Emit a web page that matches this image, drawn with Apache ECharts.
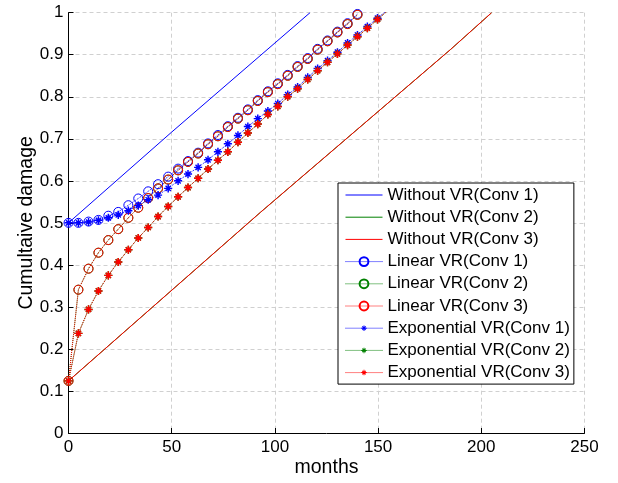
<!DOCTYPE html>
<html><head><meta charset="utf-8">
<script src="https://cdn.jsdelivr.net/npm/echarts@6/dist/echarts.min.js"></script>
<style>html,body{margin:0;padding:0;background:#fff}#c{width:618px;height:483px}</style>
</head><body><div id="c"></div>
<script>
// ---- data ----
const xTicks = [0, 50, 100, 150, 200, 250];
const yTicks = [0, 0.1, 0.2, 0.3, 0.4, 0.5, 0.6, 0.7, 0.8, 0.9, 1];

const withoutX1 = [0, 50, 117];
const withoutY1 = [0.5, 0.716, 1.0];
const withoutX23 = [0, 93, 185, 205];
const withoutY2 = [0.124, 0.525, 0.912, 1.0];
const withoutY3 = [0.124, 0.525, 0.912, 1.0];

const monthsVR = [0, 4.8, 9.7, 14.5, 19.3, 24.1, 29.0, 33.8, 38.6, 43.4, 48.3, 53.1, 57.9, 62.8, 67.6, 72.4, 77.2, 82.1, 86.9, 91.7, 96.6, 101.4, 106.2, 111.0, 115.9, 120.7, 125.5, 130.3, 135.2, 140.0, 144.8, 149.7, 154.5];

const linearConv1 = [0.500, 0.500, 0.503, 0.507, 0.517, 0.526, 0.542, 0.558, 0.575, 0.592, 0.610, 0.629, 0.647, 0.667, 0.689, 0.709, 0.730, 0.750, 0.770, 0.792, 0.813, 0.832, 0.852, 0.873, 0.892, 0.914, 0.934, 0.955, 0.975, 0.997];
const linearConv2 = [0.124, 0.341, 0.391, 0.429, 0.459, 0.485, 0.512, 0.536, 0.559, 0.582, 0.603, 0.625, 0.645, 0.665, 0.687, 0.706, 0.728, 0.748, 0.768, 0.790, 0.811, 0.830, 0.850, 0.871, 0.890, 0.912, 0.932, 0.953, 0.973, 0.995];
const linearConv3 = [0.124, 0.341, 0.391, 0.429, 0.459, 0.485, 0.512, 0.536, 0.559, 0.582, 0.603, 0.625, 0.645, 0.665, 0.687, 0.706, 0.728, 0.748, 0.768, 0.790, 0.811, 0.830, 0.850, 0.871, 0.890, 0.912, 0.932, 0.953, 0.973, 0.995];

const expConv1 = [0.500, 0.500, 0.502, 0.506, 0.512, 0.519, 0.529, 0.541, 0.555, 0.566, 0.582, 0.600, 0.616, 0.632, 0.650, 0.669, 0.688, 0.708, 0.729, 0.748, 0.766, 0.784, 0.805, 0.823, 0.846, 0.867, 0.886, 0.906, 0.928, 0.947, 0.967, 0.987, 1.006];
const expConv2 = [0.124, 0.237, 0.294, 0.338, 0.375, 0.407, 0.436, 0.464, 0.489, 0.515, 0.539, 0.562, 0.584, 0.606, 0.628, 0.649, 0.669, 0.692, 0.714, 0.735, 0.758, 0.777, 0.800, 0.819, 0.841, 0.862, 0.882, 0.902, 0.923, 0.943, 0.963, 0.984, 1.004];
const expConv3 = [0.124, 0.237, 0.294, 0.338, 0.375, 0.407, 0.436, 0.464, 0.489, 0.515, 0.539, 0.562, 0.584, 0.606, 0.628, 0.649, 0.669, 0.692, 0.714, 0.735, 0.758, 0.777, 0.800, 0.819, 0.841, 0.862, 0.882, 0.902, 0.923, 0.943, 0.963, 0.984, 1.004];

const names = ['Without VR(Conv 1)', 'Without VR(Conv 2)', 'Without VR(Conv 3)',
  'Linear VR(Conv 1)', 'Linear VR(Conv 2)', 'Linear VR(Conv 3)',
  'Exponential VR(Conv 1)', 'Exponential VR(Conv 2)', 'Exponential VR(Conv 3)'];

// ---- styling ----
const BLUE = '#0000ff', GREEN = '#008000', RED = '#ff0000';
const FONT = 'Liberation Sans, Arial, sans-serif';
// asterisk occupying the middle ~60% of its box (so the legend copy comes out small)
const STAR = 'path://M0,0L0.01,0Z M16,16L15.99,16Z ' +
  'M7.1,3L8.9,3L8.9,13L7.1,13Z M3,7.1L13,7.1L13,8.9L3,8.9Z ' +
  'M4.2,5.4L5.4,4.2L11.8,10.6L10.6,11.8Z M10.6,4.2L11.8,5.4L5.4,11.8L4.2,10.6Z';

function zip(xs, ys) { return ys.map((y, i) => [xs[i], y]); }

function plain(name, xs, ys, color) {
  return { name, type: 'line', data: zip(xs, ys), symbol: 'circle', showSymbol: false,
    itemStyle: { color: 'transparent' }, lineStyle: { color, width: 1, type: 'solid' } };
}
function circles(name, ys, color) {
  return { name, type: 'line', data: zip(monthsVR, ys), symbol: 'circle', symbolSize: 9,
    showAllSymbol: true,
    itemStyle: { color: 'transparent', borderColor: color, borderWidth: 1 },
    lineStyle: { color, width: 1, type: 'dotted' } };
}
function stars(name, ys, color) {
  return { name, type: 'line', data: zip(monthsVR, ys), symbol: STAR, symbolSize: 13,
    showAllSymbol: true,
    itemStyle: { color: color },
    lineStyle: { color, width: 1, type: 'dotted' } };
}

const chart = echarts.init(document.getElementById('c'), null, { renderer: 'canvas' });
chart.setOption({
  animation: false,
  backgroundColor: '#fff',
  textStyle: { fontFamily: FONT },
  grid: { left: 68.5, right: 33.5, top: 12.7, bottom: 48, containLabel: false },
  xAxis: {
    type: 'value', min: xTicks[0], max: xTicks[xTicks.length - 1], interval: 50,
    name: 'months', nameLocation: 'middle', nameGap: 25, nameMoveOverlap: false,
    nameTextStyle: { fontSize: 19.5, color: '#000', fontFamily: FONT },
    axisLine: { show: true, onZero: false, lineStyle: { color: '#000', width: 1 } },
    axisTick: { show: true, inside: true, length: 5, lineStyle: { color: '#000' } },
    axisLabel: { fontSize: 17, color: '#000', margin: 6, fontFamily: FONT },
    splitLine: { show: true, lineStyle: { color: '#d0d0d0', type: [4, 3], width: 1 } }
  },
  yAxis: {
    type: 'value', min: yTicks[0], max: yTicks[yTicks.length - 1], interval: 0.1,
    name: 'Cumultaive damage', nameLocation: 'middle', nameGap: 32, nameMoveOverlap: false,
    nameTextStyle: { fontSize: 19.5, color: '#000', fontFamily: FONT },
    axisLine: { show: true, onZero: false, lineStyle: { color: '#000', width: 1 } },
    axisTick: { show: true, inside: true, length: 5, lineStyle: { color: '#000' } },
    axisLabel: { fontSize: 17, color: '#000', margin: 5, fontFamily: FONT,
      formatter: v => String(+v.toFixed(1)) },
    splitLine: { show: true, lineStyle: { color: '#d0d0d0', type: [4, 3], width: 1 } }
  },
  legend: {
    orient: 'vertical', left: 338, top: 183,
    padding: [3.5, 4, 3, 7], itemGap: 5.2, itemWidth: 37, itemHeight: 11, itemTextGap: 4,
    backgroundColor: '#fff', borderColor: '#000', borderWidth: 1, borderRadius: 0,
    textStyle: { fontSize: 17, color: '#000', fontFamily: FONT },
    lineStyle: { width: 1 },
    selectedMode: false,
    data: names
  },
  series: [
    plain(names[0], withoutX1, withoutY1, BLUE),
    plain(names[1], withoutX23, withoutY2, GREEN),
    plain(names[2], withoutX23, withoutY3, RED),
    circles(names[3], linearConv1, BLUE),
    circles(names[4], linearConv2, GREEN),
    circles(names[5], linearConv3, RED),
    stars(names[6], expConv1, BLUE),
    stars(names[7], expConv2, GREEN),
    stars(names[8], expConv3, RED)
  ]
});
</script>
</body></html>
